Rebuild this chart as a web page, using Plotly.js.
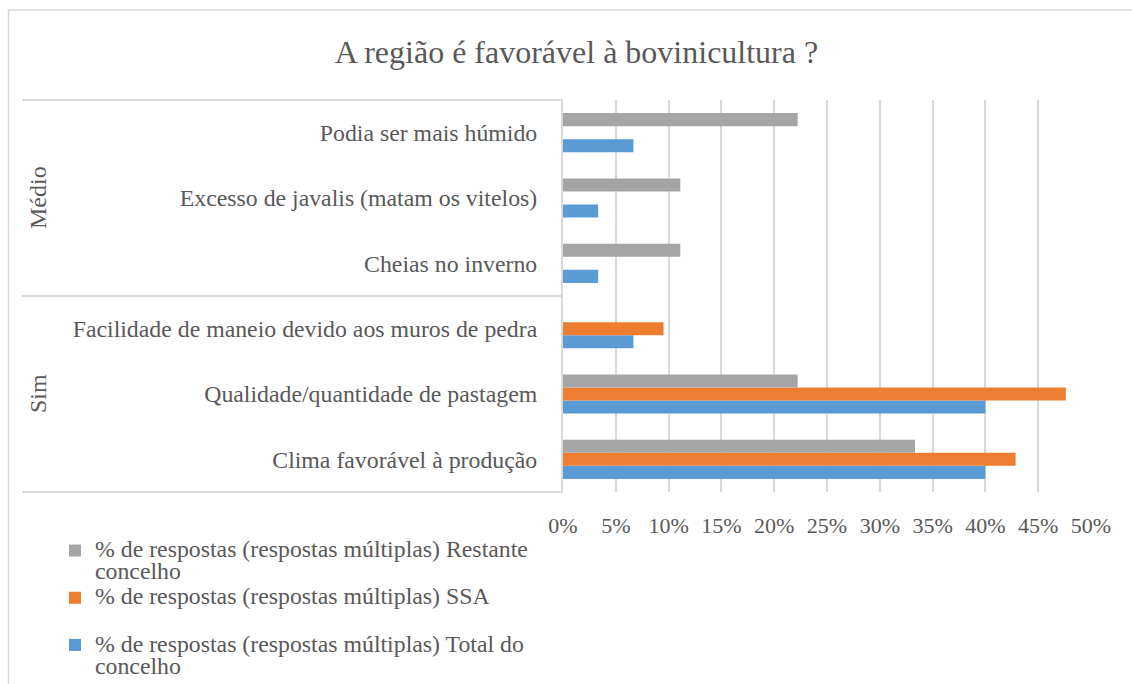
<!DOCTYPE html>
<html>
<head>
<meta charset="utf-8">
<script src="https://cdn.plot.ly/plotly-3.0.1.min.js"></script>
<style>html,body{margin:0;padding:0;background:#fff;}#chart{width:1132px;height:684px;}</style>
</head>
<body>
<div id="chart"></div>
<script>
// Categories listed bottom-to-top as drawn on the axis
const categories = [
  "Clima favorável à produção",
  "Qualidade/quantidade de pastagem",
  "Facilidade de maneio devido aos muros de pedra",
  "Cheias no inverno",
  "Excesso de javalis (matam os vitelos)",
  "Podia ser mais húmido"
];
const groups = ["Sim", "Médio"];
const totalConcelho = [0.40, 0.40, 0.0667, 0.0333, 0.0333, 0.0667];
const ssa = [0.4286, 0.4762, 0.0952, null, null, null];
const restanteConcelho = [0.3333, 0.2222, null, 0.1111, 0.1111, 0.2222];
const seriesNames = [
  "% de respostas (respostas múltiplas) Total do<br>concelho",
  "% de respostas (respostas múltiplas) SSA<br> ",
  "% de respostas (respostas múltiplas) Restante<br>concelho"
];
const xTicks = [0, 0.05, 0.10, 0.15, 0.20, 0.25, 0.30, 0.35, 0.40, 0.45, 0.50];

const FONT = 'Liberation Serif';
const TXT = '#595959';
const GRID = '#d9d9d9';

function legendLabel(s) {
  return '<span style="font-size:23.8px">' + s + '</span>';
}

const traces = [
  {type: 'bar', orientation: 'h', y: categories, x: totalConcelho, name: legendLabel(seriesNames[0]),
   marker: {color: '#5b9bd5'}},
  {type: 'bar', orientation: 'h', y: categories, x: ssa, name: legendLabel(seriesNames[1]),
   marker: {color: '#ed7d31'}},
  {type: 'bar', orientation: 'h', y: categories, x: restanteConcelho, name: legendLabel(seriesNames[2]),
   marker: {color: '#a5a5a5'}}
];

const L = 563, R = 1091, T = 100, B = 492;
const W = R - L, H = B - T;
const px = v => (v - L) / W;
const py = v => (B - v) / H;

const lineStyle = {color: GRID, width: 2};
const shapes = [
  // outer chart frame
  {type: 'rect', xref: 'paper', yref: 'paper', x0: px(8.5), x1: px(1145), y0: py(700), y1: py(10),
   line: {color: GRID, width: 1.5}, fillcolor: 'rgba(0,0,0,0)', layer: 'below'},
  // group divider lines
  {type: 'line', xref: 'paper', yref: 'paper', x0: px(22), x1: 0, y0: 1, y1: 1, line: lineStyle},
  {type: 'line', xref: 'paper', yref: 'paper', x0: px(22), x1: 0, y0: 0.5, y1: 0.5, line: lineStyle},
  {type: 'line', xref: 'paper', yref: 'paper', x0: px(22), x1: 0, y0: 0, y1: 0, line: lineStyle}
];

const annotations = [
  {xref: 'paper', yref: 'paper', x: px(38), y: 0.25, text: groups[0], textangle: -90, showarrow: false,
   xanchor: 'center', yanchor: 'middle', font: {family: FONT, size: 24, color: TXT}},
  {xref: 'paper', yref: 'paper', x: px(38), y: 0.75, text: groups[1], textangle: -90, showarrow: false,
   xanchor: 'center', yanchor: 'middle', font: {family: FONT, size: 24, color: TXT}}
];

const layout = {
  width: 1132, height: 684,
  margin: {l: L, r: 1132 - R, t: T, b: 684 - B, pad: 0, autoexpand: false},
  paper_bgcolor: '#ffffff', plot_bgcolor: '#ffffff',
  font: {family: FONT, color: TXT},
  title: {text: 'A região é favorável à bovinicultura ?', font: {family: FONT, size: 32, color: TXT},
          x: 576.5 / 1132, xanchor: 'center', xref: 'container', y: 1 - 52 / 684, yanchor: 'middle', yref: 'container'},
  barmode: 'group', bargap: 0.4, bargroupgap: 0,
  xaxis: {range: [0, 0.5], tickvals: xTicks, tickformat: '.0%', showgrid: true, gridcolor: GRID, gridwidth: 2,
          zeroline: false, showline: false, ticks: '', ticklabelstandoff: 18, automargin: false,
          tickfont: {family: FONT, size: 22, color: TXT}, fixedrange: true},
  yaxis: {type: 'category', categoryorder: 'array', categoryarray: categories, showgrid: false, zeroline: false,
          showline: true, linecolor: GRID, linewidth: 2, ticks: '', ticklabelstandoff: 19, automargin: false,
          tickfont: {family: FONT, size: 23.8, color: TXT}, fixedrange: true},
  showlegend: true,
  legend: {traceorder: 'reversed', orientation: 'v', x: px(55), xanchor: 'left', y: py(533), yanchor: 'top',
           valign: 'top', bgcolor: 'rgba(0,0,0,0)', font: {family: FONT, size: 17, color: TXT}, maxheight: 400},
  shapes: shapes,
  annotations: annotations
};

Plotly.newPlot('chart', traces, layout, {displayModeBar: false, staticPlot: true});
</script>
</body>
</html>
